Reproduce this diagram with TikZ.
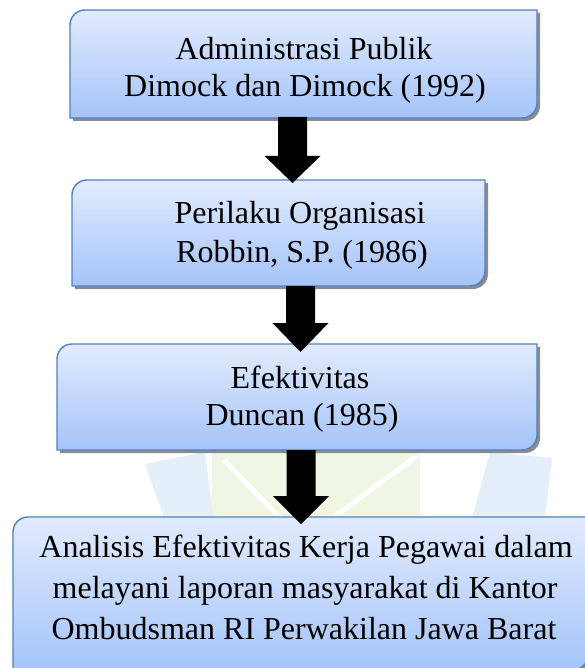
\documentclass[tikz,border=0pt]{standalone}
\usepackage{fontspec}
\setmainfont{Liberation Serif}
\usetikzlibrary{calc}
\definecolor{boxtop}{RGB}{226,235,253}
\definecolor{boxbot}{RGB}{164,196,250}
\definecolor{boxedge}{RGB}{79,129,189}
\definecolor{wmblue}{RGB}{229,239,250}
\definecolor{wmgreen}{RGB}{239,246,228}
\tikzset{
  boxtext/.style={anchor=base, inner sep=0pt, font=\fontsize{32}{37}\selectfont},
  boxshade/.style={top color=boxtop, bottom color=boxbot, draw=boxedge, line width=1.4pt},
  boxshadow/.style={fill=black!45},
  arrowfill/.style={fill=black},
  wmark/.style={draw=none},
}
% box outline: rounded top-left and bottom-right corners
\newcommand\boxpath[4]{(#1,#4) -- (#1,#2+15) arc[start angle=180,end angle=90,radius=15pt] -- (#3,#2) -- (#3,#4-15) arc[start angle=0,end angle=-90,radius=15pt] -- cycle}
\newcommand\diagbox[4]{%
  \fill[boxshadow, shift={(3,3)}] \boxpath{#1}{#2}{#3}{#4};
  \shadedraw[boxshade] \boxpath{#1}{#2}{#3}{#4};}
% block arrow from named start to named tip
\newcommand\blockarrow[3]{%
  \fill[arrowfill] let \p1=(#1), \p2=(#2) in
    (\x1-14.5pt,\y1) -- (\x1-14.5pt,\y2+#3) -- (\x1-28pt,\y2+#3) -- (\x2,\y2)
    -- (\x1+28pt,\y2+#3) -- (\x1+14.5pt,\y2+#3) -- (\x1+14.5pt,\y1) -- cycle;}
\begin{document}
\begin{tikzpicture}[x=1pt,y=-1pt]
\useasboundingbox (0,0) rectangle (585,668);
% faint watermark
\fill[wmark, wmgreen] (212,452) -- (420,452) -- (420,520) -- (212,520) -- cycle;
\fill[wmark, wmblue] (145,464) -- (205,452) -- (213,516) -- (165,520) -- cycle;
\fill[wmark, wmblue] (490,452) -- (552,458) -- (545,518) -- (472,518) -- cycle;
\draw[white, line width=5pt] (224,460) -- (282,520);
\draw[white, line width=5pt] (418,455) -- (330,520);
\draw[white, line width=4pt] (470,456) -- (453,518);
% boxes
\diagbox{70}{10}{537}{118}
\diagbox{72}{180}{485}{286}
\diagbox{57}{344}{537}{450}
\diagbox{13}{517}{588}{670}
% arrow end points
\coordinate (a1s) at (292.5,117);
\coordinate (a1e) at (292.5,183);
\coordinate (a2s) at (300.5,286);
\coordinate (a2e) at (300.5,352);
\coordinate (a3s) at (301,450);
\coordinate (a3e) at (301,524);
\blockarrow{a1s}{a1e}{27pt}
\blockarrow{a2s}{a2e}{29pt}
\blockarrow{a3s}{a3e}{28pt}
% texts
\node[boxtext] (t1a) at (304,60) {Administrasi Publik};
\node[boxtext] (t1b) at (305,97) {Dimock dan Dimock (1992)};
\node[boxtext] (t2a) at (300,223) {Perilaku Organisasi};
\node[boxtext] (t2b) at (302,262) {Robbin, S.P. (1986)};
\node[boxtext] (t3a) at (300,388) {Efektivitas};
\node[boxtext] (t3b) at (302,425) {Duncan (1985)};
\node[boxtext] (t4a) at (306,557) {Analisis Efektivitas Kerja Pegawai dalam};
\node[boxtext] (t4b) at (305,598) {melayani laporan masyarakat di Kantor};
\node[boxtext] (t4c) at (304,639) {Ombudsman RI Perwakilan Jawa Barat};
\end{tikzpicture}
\end{document}
